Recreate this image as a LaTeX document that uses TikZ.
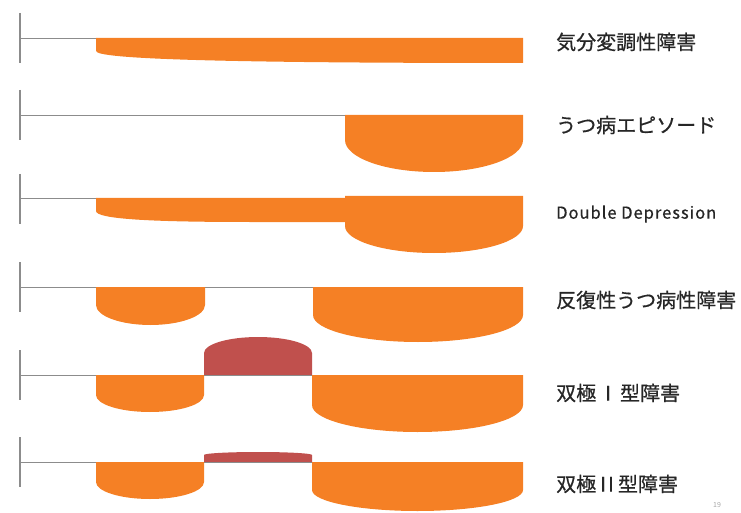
\documentclass[tikz,border=0pt]{standalone}
\usepackage{fontspec}
\newfontfamily\jp[FakeBold=0.6]{Noto Sans CJK JP}
\newfontfamily\jplat[LetterSpace=6,FakeBold=0.6]{Noto Sans CJK JP}
\newfontfamily\jpsmall{Noto Sans CJK JP}
\definecolor{dorange}{HTML}{F58025}
\definecolor{dred}{HTML}{C0504D}
\definecolor{axisgray}{HTML}{8C8C8C}
\tikzset{
  baseln/.style={draw=axisgray, line width=0.9pt},
  tickln/.style={draw=axisgray, line width=1.3pt},
  mood/.style={fill=dorange},
  mania/.style={fill=dred},
  lbl/.style={anchor=west, inner sep=0pt, text=black!85, font=\jp\fontsize{20}{20}\selectfont},
}
% cup below the line: x1,x2,top,side,bottom
\newcommand\depcup[5]{%
  \fill[mood] (#1,#3) -- (#1,#4)
    .. controls (#1,{#4+0.552*(#5-#4)}) and ({(#1+#2)/2-0.552*(#2-#1)/2},#5) .. ({(#1+#2)/2},#5)
    .. controls ({(#1+#2)/2+0.552*(#2-#1)/2},#5) and (#2,{#4+0.552*(#5-#4)}) .. (#2,#4)
    -- (#2,#3) -- cycle;}
% dome above the line
\newcommand\mancup[5]{%
  \fill[mania] (#1,#3) -- (#1,#4)
    .. controls (#1,{#4+0.552*(#5-#4)}) and ({(#1+#2)/2-0.552*(#2-#1)/2},#5) .. ({(#1+#2)/2},#5)
    .. controls ({(#1+#2)/2+0.552*(#2-#1)/2},#5) and (#2,{#4+0.552*(#5-#4)}) .. (#2,#4)
    -- (#2,#3) -- cycle;}
\begin{document}
\begin{tikzpicture}[x=1pt,y=-1pt]
\useasboundingbox (0,0) rectangle (741,513);
% Row 1
\draw[tickln] (20,13) -- (20,63);
\draw[baseln] (20,38) -- (96,38);
\fill[mood] (96,38) -- (523,38) -- (523,63) .. controls (220,63) and (96,59) .. (96,51) -- cycle;
\node[lbl] (l1) at (556,42) {気分変調性障害};
% Row 2
\draw[tickln] (20,90) -- (20,140);
\draw[baseln] (20,115) -- (345,115);
\depcup{345}{523}{115}{140}{172}
\node[lbl] (l2) at (556,125) {うつ病エピソード};
% Row 3
\draw[tickln] (20,174) -- (20,224);
\draw[baseln] (20,198) -- (96,198);
\fill[mood] (96,198) -- (346,198) -- (346,222) -- (250,222) .. controls (150,222) and (96,219) .. (96,211) -- cycle;
\depcup{345}{523}{196}{226}{253}
\node[lbl, font=\jplat\fontsize{16.5}{16.5}\selectfont] (l3) at (556,214) {Double Depression};
% Row 4
\draw[tickln] (20,262) -- (20,312);
\draw[baseln] (20,287) -- (523,287);
\depcup{96}{205}{287}{305}{325}
\depcup{313}{523}{287}{315}{342}
\node[lbl] (l4) at (556,300) {反復性うつ病性障害};
% Row 5
\mancup{204}{312}{375}{353}{337}
\draw[tickln] (20,350) -- (20,400);
\draw[baseln] (20,375) -- (523,375);
\depcup{96}{204}{375}{395}{412}
\depcup{312}{523}{375}{405}{432}
\node[lbl] (l5) at (556,393) {双極\hspace{9pt}I\hspace{9pt}型障害};
% Row 6
\mancup{204}{312}{462}{455}{452}
\draw[tickln] (20,437) -- (20,487);
\draw[baseln] (20,462) -- (523,462);
\depcup{96}{204}{462}{482}{499}
\depcup{312}{523}{462}{490}{511}
\node[lbl] (l6) at (556,484) {双極\hspace{4pt}I\hspace{2pt}I\hspace{4pt}型障害};
\node[anchor=center, inner sep=0pt, text=gray!70, font=\jpsmall\fontsize{7}{7}\selectfont] (pg) at (717,505) {19};
\end{tikzpicture}
\end{document}
